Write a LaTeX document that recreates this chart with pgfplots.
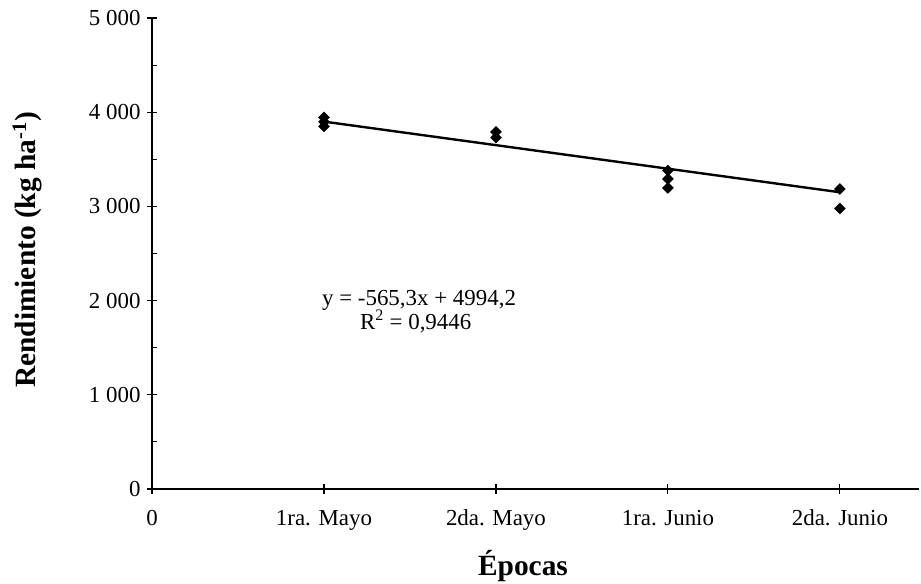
\documentclass[border=0pt]{standalone}
\usepackage{fontspec}
\setmainfont{Liberation Serif}
\usepackage{pgfplots}
\pgfplotsset{compat=1.18}
\begin{document}
\begin{tikzpicture}[x=1bp,y=1bp]
\useasboundingbox (0,0) rectangle (921,584);
\begin{axis}[
  at={(152bp,95bp)}, anchor=south west,
  scale only axis, width=767bp, height=471bp,
  xmin=0, xmax=4.46, ymin=0, ymax=5000,
  axis x line=bottom, axis y line=left,
  axis line style={-, line width=1.3bp, black},
  xtick={0,1,2,3,4},
  xticklabels={0,1ra. Mayo,2da. Mayo,1ra. Junio,2da. Junio},
  ytick={0,1000,2000,3000,4000,5000},
  yticklabels={0,1 000,2 000,3 000,4 000,5 000},
  minor ytick={500,1500,2500,3500,4500},
  tick align=center,
  major tick length=10bp, minor tick length=5bp,
  every tick/.style={black, line width=1.1bp},
  minor tick style={xshift=2.5bp},
  xticklabel style={font=\fontsize{23}{27}\selectfont, text height=16bp, text depth=5bp, yshift=-12bp},
  yticklabel style={font=\fontsize{23}{27}\selectfont, xshift=-3bp},
  clip=false,
]
\addplot[only marks, mark=square*, mark size=3.9bp, mark options={rotate=45, fill=black, draw=black}]
  coordinates {
  (1,3944) (1,3897) (1,3850)
  (2,3790) (2,3730)
  (3,3381) (3,3291) (3,3196)
  (4,3185) (4,2978)
  };
\addplot[black, line width=2.4bp, no marks] coordinates {(1,3900) (4,3150)};
\node[anchor=base west, inner sep=0, font=\fontsize{23}{27}\selectfont] at (axis cs:0.988,1953) {y = -565,3x + 4994,2};
\node[anchor=base west, inner sep=0, font=\fontsize{23}{27}\selectfont] at (axis cs:1.209,1688) {R\textsuperscript{2} = 0,9446};
\end{axis}
\node[font=\fontsize{29.5}{33}\selectfont\bfseries] at (523,18) {Épocas};
\node[rotate=90, font=\fontsize{29.5}{33}\selectfont\bfseries] at (27,334) {Rendimiento (kg ha\textsuperscript{-1})};
\end{tikzpicture}
\end{document}
